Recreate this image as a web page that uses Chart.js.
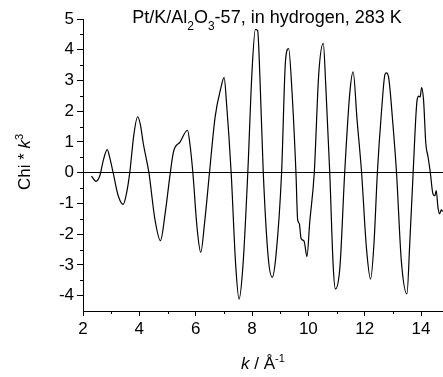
<!DOCTYPE html>
<html>
<head>
<meta charset="utf-8">
<script src="https://cdn.jsdelivr.net/npm/chart.js@4/dist/chart.umd.min.js"></script>
<style>
body { margin: 0; background: #fff; }
</style>
</head>
<body>
<canvas id="myChart" width="443" height="377"></canvas>
<script>
// k values (Å^-1) and chi*k^3
const kValues = [2.30, 2.46, 2.60, 2.72, 2.86, 2.96, 3.07, 3.25, 3.43, 3.55, 3.66, 3.80, 3.94, 4.04, 4.14, 4.34, 4.55, 4.75, 4.92, 5.10,
    5.21, 5.45, 5.71, 5.80, 5.90, 6.05, 6.18, 6.32, 6.49, 6.69, 6.88, 7.01, 7.10, 7.26, 7.42, 7.54, 7.68, 7.85, 8.00, 8.12,
    8.20, 8.28, 8.40, 8.58, 8.72, 8.85, 9.05, 9.19, 9.30, 9.41, 9.56, 9.62, 9.68, 9.74, 9.85, 9.95, 10.05, 10.21, 10.37, 10.53,
    10.62, 10.76, 10.88, 10.96, 11.12, 11.29, 11.47, 11.59, 11.73, 11.89, 12.06, 12.21, 12.33, 12.45, 12.60, 12.72, 12.77, 12.85, 13.00, 13.13,
    13.30, 13.50, 13.60, 13.72, 13.86, 13.92, 13.97, 14.02, 14.09, 14.17, 14.25, 14.33, 14.42, 14.49, 14.54, 14.60, 14.66, 14.72, 14.77];
const chiValues = [-0.11, -0.28, -0.09, 0.40, 0.75, 0.45, 0, -0.75, -1.03, -0.65, 0, 1.20, 1.82, 1.55, 0.95, 0, -1.50, -2.21, -1.30, 0,
    0.67, 1.00, 1.38, 0.90, 0, -1.80, -2.59, -1.60, 0, 1.81, 2.70, 3.09, 2.20, 0, -3.00, -4.11, -3.00, 0, 3.30, 4.66,
    4.62, 3.12, 0, -2.80, -3.40, -2.70, 0, 3.66, 4.04, 2.79, 0, -1.53, -1.66, -2.13, -2.23, -2.73, -1.60, 0, 3.23, 4.21,
    2.80, 0, -3.00, -3.78, -3.08, 0, 2.58, 3.28, 1.71, 0, -2.43, -3.46, -2.30, 0, 2.03, 3.20, 3.25, 3.10, 1.60, 0,
    -2.86, -3.94, -2.30, 0, 2.36, 2.49, 2.46, 2.77, 2.36, 0.95, 0.51, 0, -0.68, -0.75, -0.58, -1.12, -1.34, -1.21, -1.26];

const xTicks = [2, 4, 6, 8, 10, 12, 14];
const xMinorTicks = [3, 5, 7, 9, 11, 13];
const yTicks = [-4, -3, -2, -1, 0, 1, 2, 3, 4, 5];
const yMinorTicks = [-3.5, -2.5, -1.5, -0.5, 0.5, 1.5, 2.5, 3.5, 4.5];

const FONT = "'Liberation Sans', Arial, sans-serif";

// draws a row of text pieces (for sub/superscripts)
function drawParts(ctx, parts, cx, y) {
    let total = 0;
    parts.forEach((p) => { ctx.font = p.font; total += ctx.measureText(p.t).width; });
    let x = cx - total / 2;
    parts.forEach((p) => {
        ctx.font = p.font;
        ctx.fillText(p.t, x, y + (p.dy || 0));
        x += ctx.measureText(p.t).width;
    });
}

const extras = {
    id: 'extras',
    afterDraw(chart) {
        const ctx = chart.ctx;
        const xs = chart.scales.x;
        const ys = chart.scales.y;
        const area = chart.chartArea;
        ctx.save();
        ctx.strokeStyle = '#000';
        ctx.lineWidth = 1;
        ctx.beginPath();
        xMinorTicks.forEach((v) => {
            const px = Math.round(xs.getPixelForValue(v)) + 0.5;
            ctx.moveTo(px, area.bottom);
            ctx.lineTo(px, area.bottom + 3);
        });
        yMinorTicks.forEach((v) => {
            const py = Math.round(ys.getPixelForValue(v)) + 0.5;
            ctx.moveTo(area.left - 3, py);
            ctx.lineTo(area.left, py);
        });
        ctx.stroke();

        ctx.fillStyle = '#000';
        ctx.textBaseline = 'alphabetic';
        ctx.textAlign = 'left';
        const big = '18px ' + FONT;
        const small = '12px ' + FONT;
        drawParts(ctx, [
            { t: 'Pt/K/Al', font: big },
            { t: '2', font: small, dy: 7 },
            { t: 'O', font: big },
            { t: '3', font: small, dy: 7 },
            { t: '-57, in hydrogen, 283 K', font: big }
        ], 267, 23);

        const lab = '17px ' + FONT;
        const labI = 'italic 17px ' + FONT;
        const sup = '11px ' + FONT;
        drawParts(ctx, [
            { t: 'k', font: labI },
            { t: ' / Å', font: lab },
            { t: '-1', font: sup, dy: -7 }
        ], (area.left + area.right) / 2, 369);

        ctx.translate(30, 162);
        ctx.rotate(-Math.PI / 2);
        drawParts(ctx, [
            { t: 'Chi * ', font: lab },
            { t: 'k', font: labI },
            { t: '3', font: sup, dy: -7 }
        ], 0, 0);
        ctx.restore();
    }
};

const ctx = document.getElementById('myChart');

new Chart(ctx, {
    type: 'line',
    data: {
        datasets: [{
            data: kValues.map((k, i) => ({ x: k, y: chiValues[i] })),
            borderColor: '#000',
            borderWidth: 1.2,
            pointRadius: 0,
            cubicInterpolationMode: 'monotone',
            fill: false
        }]
    },
    options: {
        responsive: false,
        animation: false,
        layout: { padding: { top: 19, right: 0, left: 0, bottom: 0 } },
        plugins: {
            legend: { display: false },
            tooltip: { enabled: false }
        },
        scales: {
            x: {
                type: 'linear',
                min: 2,
                max: 14.78,
                afterBuildTicks: (scale) => { scale.ticks = xTicks.map((v) => ({ value: v })); },
                afterFit: (scale) => { scale.height = 66; },
                ticks: { color: '#000', font: { family: FONT, size: 17 }, padding: 3, maxRotation: 0 },
                grid: { drawOnChartArea: false, tickLength: 5, tickColor: '#000' },
                border: { color: '#000', width: 1 }
            },
            y: {
                min: -4.5,
                max: 5,
                afterBuildTicks: (scale) => { scale.ticks = yTicks.map((v) => ({ value: v })); },
                afterFit: (scale) => { scale.width = 83; },
                ticks: { color: '#000', font: { family: FONT, size: 17 }, padding: 3 },
                grid: {
                    drawOnChartArea: true,
                    color: (c) => (c.tick && c.tick.value === 0 ? '#000' : 'rgba(0,0,0,0)'),
                    tickColor: '#000',
                    tickLength: 6
                },
                border: { color: '#000', width: 1 }
            }
        }
    },
    plugins: [extras]
});
</script>
</body>
</html>
